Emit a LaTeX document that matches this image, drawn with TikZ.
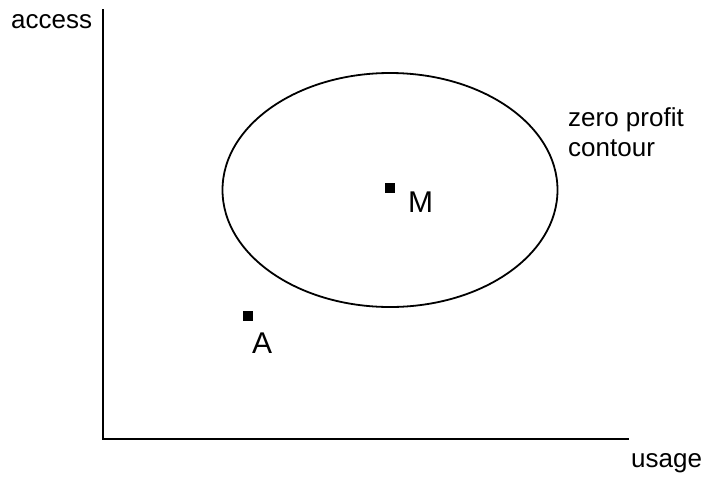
\documentclass[tikz,border=0pt]{standalone}
\usepackage{fontspec}
\setmainfont{Liberation Sans}
\usetikzlibrary{positioning}

\begin{document}
\begin{tikzpicture}[
  x=1pt, y=-1pt,
  axis/.style={line width=2pt},
  contour/.style={line width=1.8pt},
  dot/.style={rectangle, fill=black, inner sep=0pt, minimum size=9.5pt},
  lbl/.style={font=\fontsize{26}{30}\selectfont, inner sep=0pt, anchor=base west},
  ptlbl/.style={font=\fontsize{30}{34}\selectfont, inner sep=0pt, anchor=base west}
]
\useasboundingbox (0,0) rectangle (704,480);

% === Axes ===
\coordinate (O)     at (103,439);
\coordinate (ytop)  at (103,9);
\coordinate (xend)  at (629,439);
\draw[axis] (ytop) -- (O) -- (xend);

\node[lbl] (access) at (11,28)  {access};
\node[lbl] (usage)  at (631,467) {usage};

% === Zero profit contour ===
\draw[contour] (390,190) ellipse [x radius=167.5pt, y radius=117pt];
% base anchor sits on the last line
\node[lbl, align=left] (zp) at (568,156) {zero profit\\contour};

% === Points ===
\node[dot] (M) at (390,188) {};
\node[ptlbl] (Mlbl) at (408,212) {M};
\node[dot] (A) at (248,316) {};
\node[ptlbl] (Albl) at (252,353) {A};

\end{tikzpicture}
\end{document}
